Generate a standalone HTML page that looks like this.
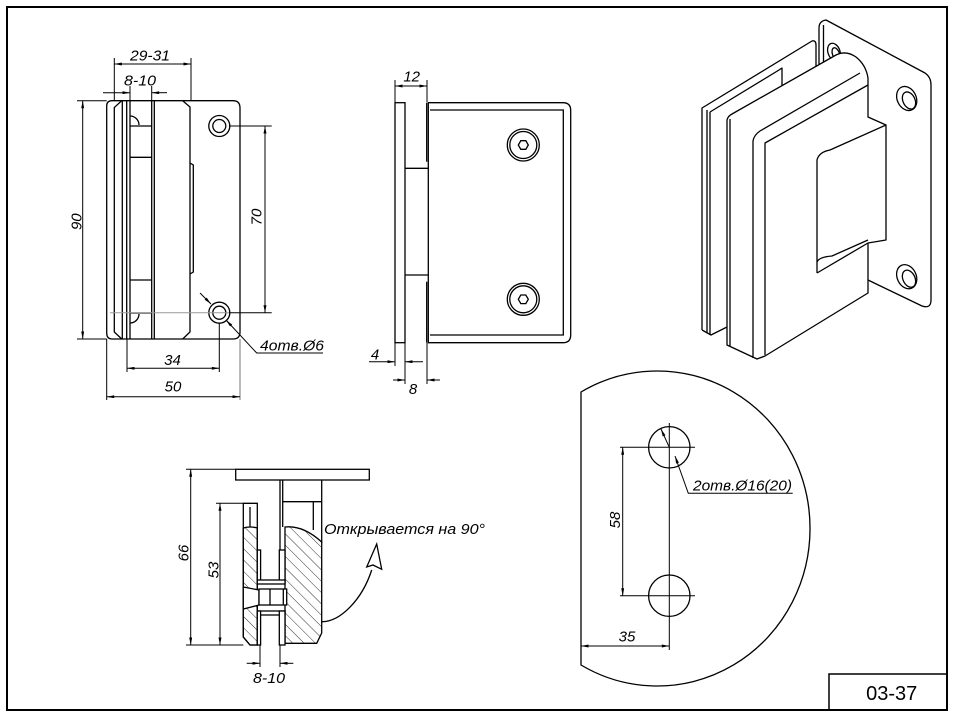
<!DOCTYPE html>
<html><head><meta charset="utf-8"><style>
html,body{margin:0;padding:0;background:#fff;}
svg{display:block;}
text{font-family:"Liberation Sans",sans-serif;font-style:italic;font-size:15px;fill:#000;}
</style></head><body>
<svg width="957" height="719" viewBox="0 0 957 719" xmlns="http://www.w3.org/2000/svg">
<defs>
<marker id="ar" viewBox="0 0 10 4" refX="10" refY="2" markerWidth="9" markerHeight="3" orient="auto-start-reverse" markerUnits="userSpaceOnUse"><path d="M0,0L10,2L0,4z" fill="#000"/></marker>
<pattern id="h" patternUnits="userSpaceOnUse" width="8" height="8" patternTransform="rotate(-45)"><line x1="0" y1="0" x2="0" y2="8" stroke="#000" stroke-width="0.8"/></pattern>
</defs>

<!-- frame -->
<rect x="7" y="7" width="940" height="703" fill="none" stroke="#000" stroke-width="2"/>
<rect x="829" y="674" width="118" height="36" fill="none" stroke="#000" stroke-width="1.5"/>
<text x="891.7" y="700" text-anchor="middle" style="font-style:normal;font-size:20px">03-37</text>

<!-- ================= TOP-LEFT VIEW ================= -->
<g fill="none" stroke="#000" stroke-width="1.3">
<path d="M112,100.7 L233,100.7 Q240,100.7 240,108 L240,332 Q240,339 233,339 L112,339 Q106.7,339 106.7,333 L106.7,106 Q106.7,100.7 112,100.7 Z"/>
<path d="M121.7,100.7 L114.3,107.5 L114.3,332 L121.7,339"/>
<line x1="122.3" y1="100.7" x2="122.3" y2="339"/>
<line x1="126.7" y1="100.7" x2="126.7" y2="339"/>
<line x1="130" y1="100.7" x2="130" y2="339"/>
<line x1="151.7" y1="100.7" x2="151.7" y2="339"/>
<line x1="154.3" y1="100.7" x2="154.3" y2="339"/>
<path d="M182.7,100.7 L190,107 L190,332 L182.7,339"/>
<path d="M190,163 L193.3,165 L193.3,272 L190,274"/>
<line x1="130" y1="126" x2="151.7" y2="126"/>
<line x1="130" y1="157.3" x2="151.7" y2="157.3"/>
<line x1="130" y1="280" x2="151.7" y2="280"/>
<line x1="130" y1="313" x2="151.7" y2="313"/>
<path d="M130,116 A9,9 0 0 1 139,125"/>
<path d="M139,314 A9,9 0 0 1 130,323"/>
<circle cx="219.3" cy="126" r="10.5"/>
<circle cx="219.3" cy="126" r="6.5"/>
<circle cx="219.3" cy="312.7" r="10.5"/>
<circle cx="219.3" cy="312.7" r="6.5"/>
</g>
<g fill="none" stroke="#000" stroke-width="1">
<line x1="114.3" y1="58" x2="114.3" y2="100"/>
<line x1="191" y1="58" x2="191" y2="100"/>
<line x1="114.3" y1="64" x2="191" y2="64" marker-start="url(#ar)" marker-end="url(#ar)"/>
<line x1="130" y1="86" x2="130" y2="100"/>
<line x1="151.7" y1="86" x2="151.7" y2="100"/>
<line x1="103" y1="92.7" x2="130" y2="92.7" marker-end="url(#ar)"/>
<line x1="167" y1="92.7" x2="151.7" y2="92.7" marker-end="url(#ar)"/>
<line x1="77" y1="100.7" x2="106.7" y2="100.7"/>
<line x1="77" y1="339" x2="106.7" y2="339"/>
<line x1="82.7" y1="100.7" x2="82.7" y2="339" marker-start="url(#ar)" marker-end="url(#ar)"/>
<line x1="229" y1="126" x2="271.7" y2="126"/>
<line x1="229" y1="312.7" x2="271.7" y2="312.7"/>
<line x1="265" y1="126" x2="265" y2="312.7" marker-start="url(#ar)" marker-end="url(#ar)"/>
<line x1="127" y1="339" x2="127" y2="372"/>
<line x1="219.3" y1="323" x2="219.3" y2="372"/>
<line x1="127" y1="368.3" x2="219.3" y2="368.3" marker-start="url(#ar)" marker-end="url(#ar)"/>
<line x1="106.7" y1="339" x2="106.7" y2="400"/>
<line x1="240" y1="339" x2="240" y2="400" stroke="#777"/>
<line x1="106.7" y1="396.7" x2="240" y2="396.7" marker-start="url(#ar)" marker-end="url(#ar)"/>
<line x1="200" y1="293" x2="211" y2="304" marker-end="url(#ar)"/>
<path d="M323,353 L256.7,353 L226,320" marker-end="url(#ar)"/>
</g>
<line x1="110" y1="312.7" x2="229" y2="312.7" stroke="#999" stroke-width="1"/>
<text x="150" y="60.7" text-anchor="middle" textLength="40" lengthAdjust="spacingAndGlyphs">29-31</text>
<text x="140" y="85.7" text-anchor="middle" textLength="32" lengthAdjust="spacingAndGlyphs">8-10</text>
<text x="81.7" y="221.7" text-anchor="middle" transform="rotate(-90 81.7 221.7)">90</text>
<text x="261.7" y="217" text-anchor="middle" transform="rotate(-90 261.7 217)">70</text>
<text x="172.5" y="365" text-anchor="middle">34</text>
<text x="173" y="391.7" text-anchor="middle">50</text>
<text x="260" y="350.5" textLength="64" lengthAdjust="spacingAndGlyphs">4отв.Ø6</text>

<!-- ================= MIDDLE VIEW ================= -->
<g fill="none" stroke="#000" stroke-width="1.3">
<rect x="395" y="102.7" width="10" height="240"/>
<line x1="426.7" y1="102.7" x2="426.7" y2="161.7"/>
<line x1="426.7" y1="281.7" x2="426.7" y2="342.7"/>
<line x1="405" y1="168.3" x2="428.3" y2="168.3"/>
<line x1="405" y1="275" x2="428.3" y2="275"/>
<path d="M428.3,102.7 L563,102.7 Q570.7,102.7 570.7,110.5 L570.7,335 Q570.7,342.7 563,342.7 L428.3,342.7 Z"/>
<path d="M430,110 L563.3,110 L563.3,335 L430,335"/>
<circle cx="523.3" cy="145" r="16"/>
<circle cx="523.3" cy="145" r="13.5"/>
<polygon points="528.3,145 525.8,149.3 520.8,149.3 518.3,145 520.8,140.7 525.8,140.7"/>
<circle cx="523.3" cy="299.3" r="16"/>
<circle cx="523.3" cy="299.3" r="13.5"/>
<polygon points="528.3,299.3 525.8,303.6 520.8,303.6 518.3,299.3 520.8,295 525.8,295"/>
</g>
<g fill="none" stroke="#000" stroke-width="1">
<line x1="395" y1="80" x2="395" y2="102"/>
<line x1="427" y1="80" x2="427" y2="102"/>
<line x1="395" y1="86" x2="427" y2="86" marker-start="url(#ar)" marker-end="url(#ar)"/>
<line x1="395" y1="343" x2="395" y2="366"/>
<line x1="405" y1="343" x2="405" y2="384"/>
<line x1="427" y1="343" x2="427" y2="384"/>
<line x1="369" y1="361.7" x2="395" y2="361.7" marker-end="url(#ar)"/>
<line x1="423" y1="361.7" x2="405" y2="361.7" marker-end="url(#ar)"/>
<line x1="393" y1="380" x2="405" y2="380" marker-end="url(#ar)"/>
<line x1="440" y1="380" x2="427" y2="380" marker-end="url(#ar)"/>
</g>
<text x="411.7" y="81.7" text-anchor="middle">12</text>
<text x="375" y="359.5" text-anchor="middle">4</text>
<text x="413" y="394" text-anchor="middle">8</text>

<!-- ================= ISO VIEW ================= -->
<g stroke="#000" stroke-width="1.3" stroke-linejoin="round">
<!-- wall plate -->
<path d="M819,62 L819,28 Q819,21 826,20 L925,73 Q931,77 931,85 L931,300 Q931,309 922,306 L868,280 L868,62 Z" fill="#fff" stroke="none"/>
<path d="M819,64 L819,28 Q819,21 826,20 L925,73 Q931,77 931,85 L931,300 Q931,309 922,306 L868,280" fill="none"/>
<line x1="823.5" y1="25" x2="823.5" y2="62"/>
<ellipse cx="834" cy="52" rx="6" ry="9" transform="rotate(-20 834 52)" fill="#fff"/>
<ellipse cx="836" cy="54" rx="3.5" ry="6.5" transform="rotate(-20 836 54)" fill="#fff"/>
<ellipse cx="906.7" cy="98.5" rx="9.5" ry="12.5" transform="rotate(-25 906.7 98.5)" fill="#fff"/>
<ellipse cx="909" cy="100.5" rx="6" ry="9" transform="rotate(-25 909 100.5)" fill="#fff"/>
<ellipse cx="906.7" cy="276.7" rx="9.5" ry="12.5" transform="rotate(-25 906.7 276.7)" fill="#fff"/>
<ellipse cx="909" cy="278.7" rx="6" ry="9" transform="rotate(-25 909 278.7)" fill="#fff"/>

<!-- back glass panel -->
<path d="M702,330 L702,108 L813,40 L816,44 L816,150 L727,205 L727,327 L711,335 Z" fill="#fff" stroke="none"/>
<path d="M702,330 L702,108 L812,41 Q816,40 816,45 L816,70" fill="none"/>
<path d="M702,330 L711,335 L727,327" fill="none"/>
<line x1="707" y1="110" x2="707" y2="333"/>
<line x1="710" y1="112" x2="710" y2="335"/>
<path d="M710,112 L779,70 L782,68 L782,86 L800,76" fill="none"/>

<!-- front clamp -->
<path d="M727,345 L727,120 Q728,116 732,114 L836,55 Q846,50 856,57 Q866,65 868,78 L868,117 L886,125 L886,240 L868,243 L868,293 L765,356 L757,359 Z" fill="#fff"/>
<line x1="730" y1="119" x2="730" y2="346"/>
<path d="M753,358 L753,141 Q754,135 760,131 L860,73" fill="none"/>
<path d="M765,355 L765,143 L868,85" fill="none"/>
<path d="M817,273 L817,160 Q819,152 830,150 L886,125" fill="none"/>
<path d="M817,273 L868,243" fill="none"/>
<path d="M817,262 Q819,257 832,256 L868,240" fill="none"/>
</g>

<!-- ================= BOTTOM-LEFT SECTION ================= -->
<g stroke="#000" stroke-width="1.3" fill="none">
<rect x="235.7" y="469.3" width="133.6" height="10.7" fill="#fff"/>
<line x1="280" y1="480" x2="280" y2="551.7"/>
<line x1="282.7" y1="480" x2="282.7" y2="527"/>
<line x1="321.7" y1="480" x2="321.7" y2="543"/>
<line x1="282.7" y1="501.7" x2="321.7" y2="501.7"/>
<line x1="313.3" y1="501.7" x2="313.3" y2="530"/>
<path d="M285,527 Q303,525 321.7,542 L321.7,633 L316.7,643.3 L285,643.3 Z" fill="url(#h)"/>
<path d="M243.3,503.3 L257.3,503.3 L257.3,645 L250,645 L243.3,637 Z" fill="#fff"/>
<path d="M243.3,528 Q250,526 257.3,528 L257.3,645 L250,645 L243.3,637 Z" fill="url(#h)"/>
<line x1="250" y1="507" x2="250" y2="527"/>
<rect x="257.3" y="550" width="3.3" height="32" fill="#fff"/>
<rect x="279.3" y="550" width="5.7" height="32" fill="#fff"/>
<rect x="257.3" y="580" width="27.7" height="4" fill="#fff"/>
<rect x="257.3" y="611" width="27.7" height="4" fill="#fff"/>
<rect x="257.3" y="611" width="3.3" height="34" fill="#fff"/>
<rect x="279.3" y="611" width="5.7" height="34" fill="#fff"/>
<polygon points="243.3,587 259,590 259,605 243.3,609" fill="#fff"/>
<rect x="259" y="589" width="27.7" height="16" fill="#fff"/>
<line x1="270" y1="589" x2="270" y2="605"/>
<line x1="283.3" y1="589" x2="283.3" y2="605"/>
<path d="M321.7,621.7 C340,622 362,600 371.7,570"/>
<polygon points="366.7,567 376.7,544 381.7,569.3 373,565" fill="#fff"/>
</g>
<g fill="none" stroke="#000" stroke-width="1">
<line x1="186" y1="469.3" x2="235.7" y2="469.3"/>
<line x1="186" y1="645" x2="243.3" y2="645"/>
<line x1="190.7" y1="469.3" x2="190.7" y2="645" marker-start="url(#ar)" marker-end="url(#ar)"/>
<line x1="216" y1="503.3" x2="243.3" y2="503.3"/>
<line x1="220" y1="503.3" x2="220" y2="645" marker-start="url(#ar)" marker-end="url(#ar)"/>
<line x1="260" y1="645" x2="260" y2="667"/>
<line x1="280" y1="645" x2="280" y2="667"/>
<line x1="246.7" y1="663.3" x2="260" y2="663.3" marker-end="url(#ar)"/>
<line x1="293.3" y1="663.3" x2="280" y2="663.3" marker-end="url(#ar)"/>
</g>
<text x="188.3" y="553" text-anchor="middle" transform="rotate(-90 188.3 553)">66</text>
<text x="218.3" y="570" text-anchor="middle" transform="rotate(-90 218.3 570)">53</text>
<text x="269" y="683" text-anchor="middle" textLength="32" lengthAdjust="spacingAndGlyphs">8-10</text>
<text x="324" y="534" textLength="161" lengthAdjust="spacingAndGlyphs">Открывается на 90°</text>

<!-- ================= BOTTOM-RIGHT VIEW ================= -->
<g fill="none" stroke="#000" stroke-width="1.3">
<path d="M581,392 A152.8,157.5 0 1 1 581,665 Z"/>
<circle cx="669.3" cy="447.3" r="20.7"/>
<circle cx="669.3" cy="595.7" r="20.7"/>
</g>
<g fill="none" stroke="#000" stroke-width="1">
<line x1="669.3" y1="423" x2="669.3" y2="650"/>
<line x1="620" y1="447.3" x2="695" y2="447.3"/>
<line x1="620" y1="595.7" x2="695" y2="595.7"/>
<line x1="622.7" y1="447.3" x2="622.7" y2="595.7" marker-start="url(#ar)" marker-end="url(#ar)"/>
<line x1="581" y1="646" x2="669.3" y2="646" marker-start="url(#ar)" marker-end="url(#ar)"/>
<line x1="669.3" y1="447.3" x2="661" y2="429" marker-end="url(#ar)"/>
<path d="M792.7,493.3 L688.3,493.3 L675,456" marker-end="url(#ar)"/>
</g>
<text x="620" y="520" text-anchor="middle" transform="rotate(-90 620 520)">58</text>
<text x="627" y="641.7" text-anchor="middle">35</text>
<text x="693" y="490.5" textLength="99" lengthAdjust="spacingAndGlyphs">2отв.Ø16(20)</text>
</svg>
</body></html>
